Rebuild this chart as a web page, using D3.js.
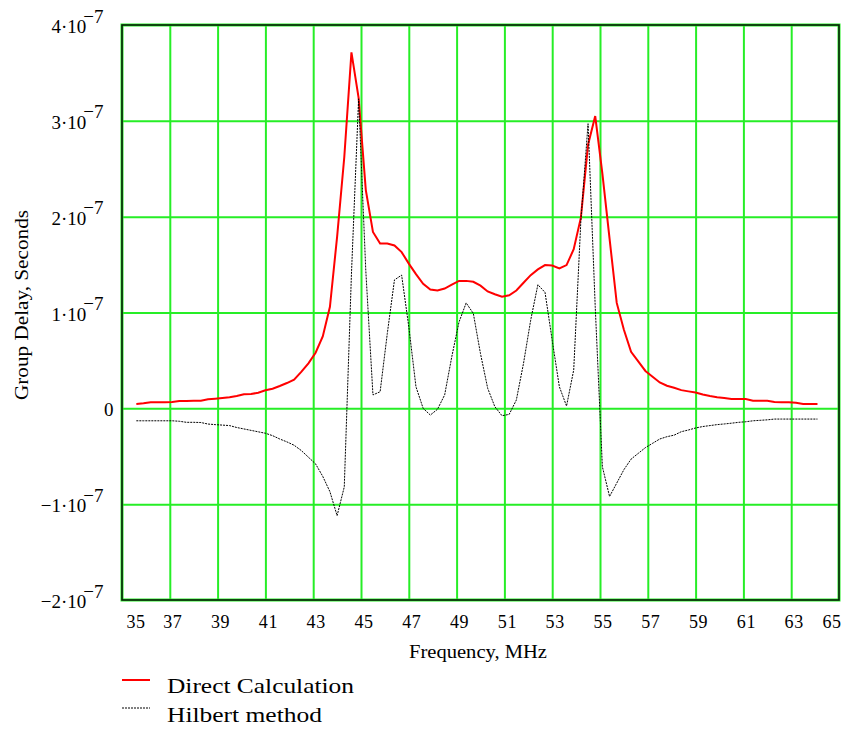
<!DOCTYPE html>
<html>
<head>
<meta charset="utf-8">
<script src="https://cdn.jsdelivr.net/npm/d3@7"></script>
<style>
  html, body { margin: 0; padding: 0; background: #fff; }
  svg { display: block; }
  text { font-family: "Liberation Serif", "Times New Roman", serif; fill: #000; }
</style>
</head>
<body>
<svg id="chart" width="848" height="729"></svg>
<script>
// Frequency, MHz
const freq = [35.6,35.9,36.2,36.5,36.8,37.1,37.4,37.7,38.0,38.3,38.6,38.9,39.2,39.5,39.8,40.1,40.4,40.7,41.0,41.3,
  41.6,41.9,42.2,42.5,42.8,43.1,43.4,43.7,44.0,44.3,44.6,44.9,45.2,45.5,45.8,46.1,46.4,46.7,47.0,47.3,
  47.6,47.9,48.2,48.5,48.8,49.1,49.4,49.7,50.0,50.3,50.6,50.9,51.2,51.5,51.8,52.1,52.4,52.7,53.0,53.3,
  53.6,53.9,54.2,54.5,54.8,55.1,55.4,55.7,56.0,56.3,56.6,56.9,57.2,57.5,57.8,58.1,58.4,58.7,59.0,59.3,
  59.6,59.9,60.2,60.5,60.8,61.1,61.4,61.7,62.0,62.3,62.6,62.9,63.2,63.5,63.8,64.1];

// Group delay in units of 1e-7 s
const directCalc = [0.045,0.052,0.063,0.063,0.063,0.066,0.076,0.076,0.079,0.079,
  0.094,0.100,0.107,0.115,0.128,0.146,0.149,0.163,0.188,0.205,
  0.233,0.264,0.300,0.380,0.470,0.580,0.750,1.060,1.790,2.620,
  3.715,3.240,2.280,1.840,1.720,1.720,1.700,1.630,1.510,1.400,
  1.300,1.240,1.230,1.250,1.290,1.330,1.330,1.320,1.280,1.220,
  1.190,1.165,1.180,1.230,1.310,1.390,1.450,1.495,1.490,1.460,
  1.495,1.660,1.990,2.750,3.050,2.450,1.770,1.100,0.820,0.590,
  0.490,0.390,0.330,0.270,0.236,0.215,0.190,0.177,0.165,0.144,
  0.128,0.115,0.107,0.097,0.097,0.097,0.079,0.079,0.079,0.066,
  0.063,0.063,0.058,0.045,0.045,0.045];

const hilbert = [-0.130,-0.130,-0.130,-0.130,-0.130,-0.130,-0.135,-0.146,-0.146,-0.148,
  -0.164,-0.170,-0.175,-0.180,-0.200,-0.215,-0.230,-0.245,-0.260,-0.285,
  -0.320,-0.350,-0.385,-0.440,-0.510,-0.580,-0.710,-0.870,-1.120,-0.820,
  1.400,3.230,1.440,0.140,0.173,0.780,1.340,1.390,0.850,0.225,
  0.000,-0.070,-0.010,0.140,0.540,0.900,1.100,0.990,0.570,0.210,
  0.017,-0.077,-0.063,0.087,0.470,0.920,1.290,1.210,0.710,0.225,
  0.024,0.400,1.960,2.970,1.060,-0.610,-0.920,-0.780,-0.640,-0.530,
  -0.470,-0.410,-0.365,-0.320,-0.296,-0.280,-0.244,-0.226,-0.205,-0.190,
  -0.180,-0.170,-0.163,-0.155,-0.146,-0.140,-0.130,-0.125,-0.120,-0.112,
  -0.112,-0.112,-0.112,-0.112,-0.112,-0.112];

const xTickValues = [35,37,39,41,43,45,47,49,51,53,55,57,59,61,63,65];
const xTickLabels = ["35","37","39","41","43","45","47","49","51","53","55","57","59","61","63","65"];
const yTickValues = [4,3,2,1,0,-1,-2];
const yTickMantissa = ["4","3","2","1","0","\u22121","\u22122"];
const yTickExponent = "\u22127";
const seriesNames = ["Direct Calculation","Hilbert method"];

const pL = 122, pR = 839, pT = 25, pB = 600;
const svg = d3.select("#chart");

const x = d3.scaleLinear().domain([35,65]).range([pL,pR]);
const y = d3.scaleLinear().domain([-2,4]).range([pB,pT]);

const green = "#26ee26";

// vertical grid
svg.append("g")
  .attr("transform", `translate(0,${pB})`)
  .call(d3.axisBottom(x).tickValues(xTickValues.slice(1,-1)).tickSize(-(pB-pT)).tickFormat(""))
  .call(g => g.select(".domain").remove())
  .call(g => g.selectAll(".tick line").attr("stroke", green).attr("stroke-width", 2));

// horizontal grid
svg.append("g")
  .attr("transform", `translate(${pL},0)`)
  .call(d3.axisLeft(y).tickValues(yTickValues.slice(1,-1)).tickSize(-(pR-pL)).tickFormat(""))
  .call(g => g.select(".domain").remove())
  .call(g => g.selectAll(".tick line").attr("stroke", green).attr("stroke-width", 2));

// frame
svg.append("rect").attr("x", pL).attr("y", pT).attr("width", pR-pL).attr("height", pB-pT)
  .attr("fill", "none").attr("stroke", green).attr("stroke-width", 3);
svg.append("rect").attr("x", pL).attr("y", pT).attr("width", pR-pL).attr("height", pB-pT)
  .attr("fill", "none").attr("stroke", "#0b1f0b").attr("stroke-width", 1.6);

// x tick labels
svg.append("g").selectAll("text").data(xTickValues).join("text")
  .attr("x", (d,i) => i === 0 ? x(d) + 14 : (i === xTickValues.length-1 ? x(d) - 7 : x(d) + 3))
  .attr("y", 628)
  .attr("text-anchor", "middle")
  .attr("font-size", 18)
  .attr("letter-spacing", 0.6)
  .text((d,i) => xTickLabels[i]);

// y tick labels
const yl = svg.append("g").selectAll("text").data(yTickValues).join("text")
  .attr("x", d => d === 0 ? 113.5 : 103.5)
  .attr("y", d => y(d) + 8)
  .attr("text-anchor", "end")
  .attr("font-size", 19);
yl.each(function(d,i){
  const t = d3.select(this);
  if (d === 0) { t.text(yTickMantissa[i]); return; }
  t.append("tspan").text(yTickMantissa[i] + "\u00B710");
  t.append("tspan").attr("dx", -3).attr("dy", -10.5).text(yTickExponent);
});

// lines
const line = d3.line().x((d,i) => x(freq[i])).y(d => y(d));
svg.append("path").datum(directCalc).attr("d", line)
  .attr("fill", "none").attr("stroke", "#ff0000").attr("stroke-width", 2).attr("stroke-linejoin", "miter");
svg.append("path").datum(hilbert).attr("d", line)
  .attr("fill", "none").attr("stroke", "#000").attr("stroke-width", 1).attr("stroke-dasharray", "2,1");

// axis titles
svg.append("text").attr("x", 478).attr("y", 658).attr("text-anchor", "middle")
  .attr("font-size", 19).attr("textLength", 138).attr("lengthAdjust", "spacingAndGlyphs")
  .text("Frequency, MHz");
svg.append("text").attr("transform", "translate(28,305) rotate(-90)").attr("text-anchor", "middle")
  .attr("font-size", 19).attr("textLength", 190).attr("lengthAdjust", "spacingAndGlyphs")
  .text("Group Delay, Seconds");

// legend
const legend = svg.append("g");
legend.append("line").attr("x1", 122).attr("x2", 150).attr("y1", 680).attr("y2", 680)
  .attr("stroke", "#ff0000").attr("stroke-width", 2);
legend.append("text").attr("x", 167).attr("y", 693).attr("font-size", 21)
  .attr("textLength", 187).attr("lengthAdjust", "spacingAndGlyphs").text(seriesNames[0]);
legend.append("line").attr("x1", 122).attr("x2", 150).attr("y1", 708).attr("y2", 708)
  .attr("stroke", "#000").attr("stroke-width", 1).attr("stroke-dasharray", "2,1");
legend.append("text").attr("x", 167).attr("y", 722).attr("font-size", 21)
  .attr("textLength", 155).attr("lengthAdjust", "spacingAndGlyphs").text(seriesNames[1]);
</script>
</body>
</html>
